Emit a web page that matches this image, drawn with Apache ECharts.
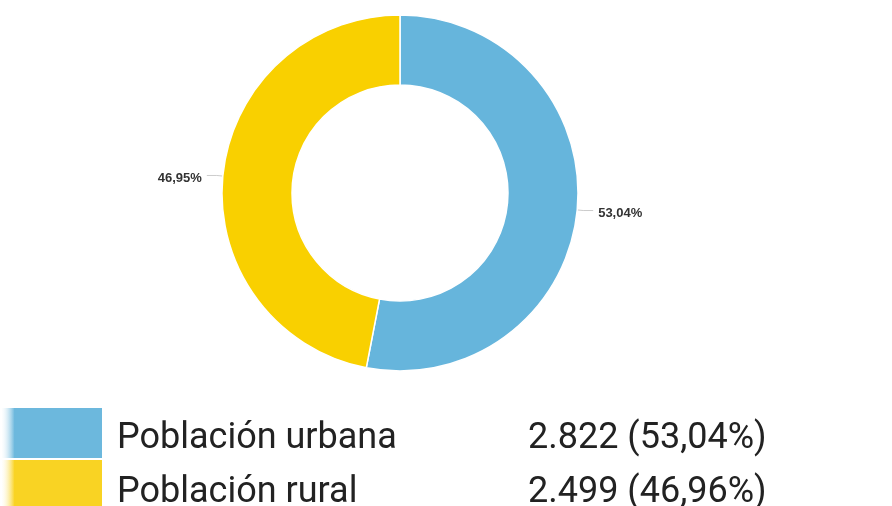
<!DOCTYPE html>
<html><head><meta charset="utf-8">
<script src="https://cdn.jsdelivr.net/npm/echarts@6/dist/echarts.min.js"></script>
<style>html,body{margin:0;padding:0;background:#fff}#c{width:892px;height:506px}</style>
</head><body><div id="c"></div>
<script>
var categories = ['Población urbana', 'Población rural'];
var values = [2822, 2499];
var legendValues = ['2.822 (53,04%)', '2.499 (46,96%)'];
var sliceLabels = ['53,04%', '46,95%'];
var colors = ['#66b5dc', '#f9d000'];
var legendColors = ['#6cb8dd', '#f9d323'];

var chart = echarts.init(document.getElementById('c'));
var data = categories.map(function (c, i) {
  return { name: c, value: values[i], itemStyle: { color: colors[i] } };
});
function fade(col) {
  return {
    type: 'linear', x: 0, y: 0, x2: 1, y2: 0,
    colorStops: [
      { offset: 0, color: 'rgba(255,255,255,0)' },
      { offset: 0.14, color: col },
      { offset: 1, color: col }
    ]
  };
}
var legendTops = [406, 458];
var legends = categories.map(function (c, i) {
  return {
    orient: 'vertical',
    left: 0,
    top: legendTops[i],
    padding: 0,
    itemWidth: 102,
    itemHeight: 52,
    itemGap: 0,
    icon: 'rect',
    selectedMode: false,
    data: [{ name: c, itemStyle: { color: fade(legendColors[i]) } }],
    formatter: function (name) {
      var k = categories.indexOf(name);
      return '{n|' + name + '}{v|' + legendValues[k] + '}';
    },
    textStyle: {
      padding: [i === 0 ? 11 : 15, 0, 0, 9],
      rich: {
        n: { fontFamily: 'Roboto', fontSize: 36, color: '#222', width: 411 },
        v: { fontFamily: 'Roboto', fontSize: 36, color: '#222' }
      }
    }
  };
});
chart.setOption({
  animation: false,
  backgroundColor: '#fff',
  legend: legends,
  series: [{
    type: 'pie',
    center: [400, 193],
    radius: [108, 178],
    startAngle: 90,
    clockwise: true,
    data: data,
    itemStyle: { borderColor: '#fff', borderWidth: 1.5 },
    label: {
      show: true,
      position: 'outside',
      fontSize: 13,
      fontWeight: 'bold',
      fontFamily: 'Arial',
      color: '#333',
      formatter: function (p) { return sliceLabels[p.dataIndex]; }
    },
    labelLayout: { dy: 3 },
    labelLine: { show: true, length: 6, length2: 10, lineStyle: { color: '#ccc', width: 1 } }
  }]
});
</script></body></html>
